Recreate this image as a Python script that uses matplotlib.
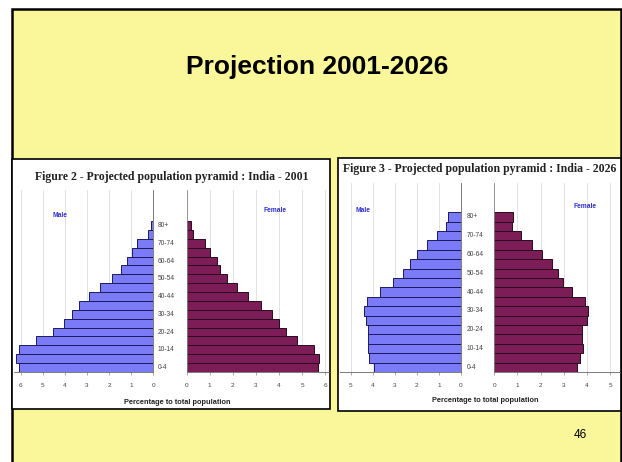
#!/usr/bin/env python3
# -*- coding: utf-8 -*-
"""
Projection 2001-2026: India population pyramids (slide reproduction)
"""

import matplotlib
matplotlib.use("Agg")
import matplotlib.pyplot as plt
from matplotlib.patches import Rectangle

# age groups, bottom to top
age_groups = ["0-4", "5-9", "10-14", "15-19", "20-24", "25-29", "30-34", "35-39",
              "40-44", "45-49", "50-54", "55-59", "60-64", "65-69", "70-74",
              "75-79", "80+"]
shown_labels = ["0-4", "10-14", "20-24", "30-34", "40-44", "50-54", "60-64",
                "70-74", "80+"]

# Figure 2 - 2001 (% of total population)
male_2001 = [6.06, 6.23, 6.08, 5.30, 4.55, 4.03, 3.66, 3.36, 2.90, 2.41,
             1.88, 1.46, 1.20, 0.97, 0.75, 0.26, 0.12]
female_2001 = [5.71, 5.75, 5.52, 4.77, 4.29, 4.02, 3.68, 3.22, 2.67, 2.17,
               1.73, 1.45, 1.30, 1.01, 0.80, 0.26, 0.17]

# Figure 3 - 2026
male_2026 = [3.93, 4.15, 4.20, 4.20, 4.20, 4.30, 4.40, 4.24, 3.67, 3.10,
             2.64, 2.31, 1.98, 1.56, 1.10, 0.68, 0.57]
female_2026 = [3.56, 3.70, 3.82, 3.80, 3.78, 3.99, 4.06, 3.92, 3.34, 2.98,
               2.77, 2.48, 2.05, 1.61, 1.14, 0.75, 0.82]

W, H = 622, 462
YELLOW = "#F9F799"
MALE_COLOR = "#7B7BF8"
FEMALE_COLOR = "#7D1D58"
SERIF = ["Liberation Serif", "DejaVu Serif"]
SANS = ["Liberation Sans", "DejaVu Sans"]


def px_box(x0, y0, x1, y1):
    """pixel box (top-left origin) -> figure fraction rect"""
    return [x0 / W, 1 - y1 / H, (x1 - x0) / W, (y1 - y0) / H]


def add_rect(fig, x0, y0, x1, y1, face, lw=1.5, z=-2):
    fig.patches.append(Rectangle((x0 / W, 1 - y1 / H), (x1 - x0) / W, (y1 - y0) / H,
                                 transform=fig.transFigure, facecolor=face,
                                 edgecolor="black", linewidth=lw, zorder=z))


def style_axis(ax, ticks):
    ax.set_xticks(ticks)
    ax.set_xticklabels([str(t) for t in ticks], fontsize=4.6, color="#444444",
                       family=SANS)
    ax.set_yticks([])
    ax.tick_params(axis="x", length=2, width=0.5, color="#888888", pad=6)
    ax.grid(axis="x", color="#dddddd", linewidth=0.6)
    ax.set_axisbelow(True)
    ax.set_facecolor("white")
    for s in ax.spines.values():
        s.set_visible(False)
    ax.spines["bottom"].set_visible(True)
    ax.spines["bottom"].set_color("#666666")
    ax.spines["bottom"].set_linewidth(0.6)


def draw_pyramid(fig, male, female, title, panel, male_box, female_box,
                 male_lim, female_lim, ticks_m, ticks_f, ymax, label_x,
                 male_pos, female_pos, xlabel_pos, title_pos):
    x0, y0, x1, y1 = panel
    add_rect(fig, x0, y0, x1, y1, "white", lw=1.2, z=-1)

    fig.text(title_pos[0] / W, 1 - title_pos[1] / H, title, ha="center",
             va="center", fontsize=8.5, fontweight="bold", family=SERIF,
             color="#222222")

    y = list(range(len(age_groups)))

    axm = fig.add_axes(px_box(*male_box))
    axm.barh(y, male, height=1.0, color=MALE_COLOR, edgecolor="#1a1a60",
             linewidth=0.7)
    axm.set_xlim(male_lim, 0)
    axm.set_ylim(-0.5, ymax)
    style_axis(axm, ticks_m)
    axm.spines["right"].set_visible(True)
    axm.spines["right"].set_color("#666666")
    axm.spines["right"].set_linewidth(0.6)

    axf = fig.add_axes(px_box(*female_box))
    axf.barh(y, female, height=1.0, color=FEMALE_COLOR, edgecolor="#2a0a20",
             linewidth=0.7)
    axf.set_xlim(0, female_lim)
    axf.set_ylim(-0.5, ymax)
    style_axis(axf, ticks_f)
    axf.spines["left"].set_visible(True)
    axf.spines["left"].set_color("#888888")
    axf.spines["left"].set_linewidth(0.6)

    # age labels in the gap between the two halves
    for lab in shown_labels:
        idx = age_groups.index(lab)
        axm.annotate(lab, xy=(label_x / W, idx),
                     xycoords=("figure fraction", "data"),
                     fontsize=4.8, color="#444444", va="center", ha="left",
                     family=SANS, annotation_clip=False)

    fig.text(male_pos[0] / W, 1 - male_pos[1] / H, "Male", fontsize=4.8,
             fontweight="bold", color="#3030d0", ha="center", va="center",
             family=SANS)
    fig.text(female_pos[0] / W, 1 - female_pos[1] / H, "Female", fontsize=4.8,
             fontweight="bold", color="#3030d0", ha="center", va="center",
             family=SANS)
    fig.text(xlabel_pos[0] / W, 1 - xlabel_pos[1] / H,
             "Percentage to total population", fontsize=5.3, fontweight="bold",
             color="#222222", ha="center", va="center", family=SANS)


def main():
    fig = plt.figure(figsize=(W / 100, H / 100), dpi=100)
    fig.patch.set_facecolor("white")

    # slide background
    add_rect(fig, 12, 9, 621, 480, YELLOW, lw=1.8, z=-3)

    fig.text(317 / W, 1 - 67 / H, "Projection 2001-2026", ha="center",
             va="center", fontsize=19, fontweight="bold", family=SANS)
    fig.text(580 / W, 1 - 435 / H, "46", ha="center", va="center",
             fontsize=8.5, family=SANS)

    # Figure 2 - 2001
    draw_pyramid(fig, male_2001, female_2001,
                 "Figure 2 - Projected population pyramid : India - 2001",
                 panel=(12, 159, 330, 409),
                 male_box=(14, 190, 153.3, 372),
                 female_box=(186.7, 190, 329, 372),
                 male_lim=6.3, female_lim=6.17,
                 ticks_m=[6, 5, 4, 3, 2, 1, 0], ticks_f=[0, 1, 2, 3, 4, 5, 6],
                 ymax=20.0, label_x=158,
                 male_pos=(60, 215), female_pos=(275, 211),
                 xlabel_pos=(177, 402), title_pos=(172, 177))

    # Figure 3 - 2026
    draw_pyramid(fig, male_2026, female_2026,
                 "Figure 3 - Projected population pyramid : India - 2026",
                 panel=(338, 158, 621, 411),
                 male_box=(340, 183, 461, 372),
                 female_box=(494.3, 183, 620, 372),
                 male_lim=5.48, female_lim=5.43,
                 ticks_m=[5, 4, 3, 2, 1, 0], ticks_f=[0, 1, 2, 3, 4, 5],
                 ymax=19.6, label_x=467,
                 male_pos=(363, 210), female_pos=(585, 207),
                 xlabel_pos=(485, 400), title_pos=(480, 169))

    fig.savefig("out.png", dpi=100, facecolor=fig.get_facecolor())


if __name__ == "__main__":
    main()
